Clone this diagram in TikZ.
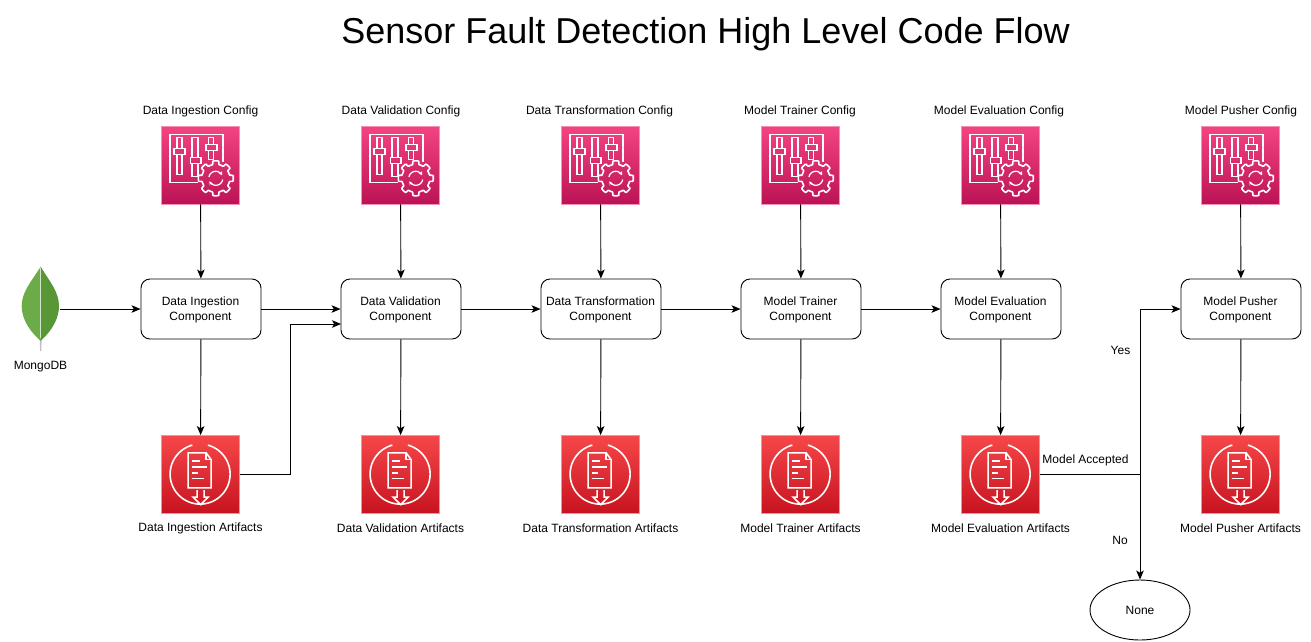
\documentclass[tikz,border=0pt]{standalone}
\usepackage{fontspec}
\setmainfont{Liberation Sans}
\usetikzlibrary{arrows.meta,shapes.geometric}
\definecolor{cfgtop}{HTML}{F34482}
\definecolor{cfgbot}{HTML}{BC1356}
\definecolor{arttop}{HTML}{F54749}
\definecolor{artbot}{HTML}{C7131F}
\definecolor{leafl}{HTML}{6CAC48}
\definecolor{leafr}{HTML}{599636}
\definecolor{stemc}{HTML}{C2BFBF}
\tikzset{
  lab/.style={font=\fontsize{12}{14}\selectfont,text=black,inner sep=0pt,align=center},
  comp/.style={draw=black,line width=0.9pt,rounded corners=9pt,minimum width=120pt,minimum height=60pt,inner sep=0pt,fill=white,font=\fontsize{12}{15}\selectfont,align=center},
  cfgbox/.style={draw=cfgtop!60!white,line width=0.8pt,top color=cfgtop,bottom color=cfgbot,minimum size=78pt,inner sep=0pt},
  artbox/.style={draw=arttop!60!white,line width=0.8pt,top color=arttop,bottom color=artbot,minimum size=78pt,inner sep=0pt},
  conn/.style={draw=black,line width=0.9pt,-{Stealth[length=9pt,width=7.5pt,inset=2.2pt]}},
  plainconn/.style={draw=black,line width=0.9pt},
  ico/.style={draw=white,line width=1.6pt,line join=miter},
  cfgicon/.pic={
    \draw[ico] (37,57) -- (8.7,57) -- (8.7,8.7) -- (62,8.7) -- (62,36);
    % sliders
    \draw[ico] (16,23) -- (16,12) -- (21,12) -- (21,23);
    \draw[ico] (16,29) -- (16,49) -- (21,49) -- (21,29);
    \draw[ico] (13,23) rectangle (24,29);
    \draw[ico] (31,32) -- (31,12) -- (37,12) -- (37,32);
    \draw[ico] (31,38) -- (31,51) -- (37,51) -- (37,38);
    \draw[ico] (29.5,32) rectangle (40,38);
    \draw[ico] (47.5,19) -- (47.5,12) -- (52.5,12) -- (52.5,19);
    \draw[ico] (47.5,25) -- (47.5,34) -- (52.5,34) -- (52.5,25);
    \draw[ico] (45,19) rectangle (56,25);
    % gear
    \draw[ico] plot[domain=0:360,samples=145] ({54.7+(14+3.5*max(0,min(1,2.2*cos(8*\x)+0.5)))*cos(\x)},{52.7+(14+3.5*max(0,min(1,2.2*cos(8*\x)+0.5)))*sin(\x)}) -- cycle;
    % refresh
    \draw[ico,line width=1.2pt,-{Stealth[length=3.8pt,width=4pt]}] plot[domain=190:335,samples=16] ({54.7+7*cos(\x)},{52.7+7*sin(\x)});
    \draw[ico,line width=1.2pt,-{Stealth[length=3.8pt,width=4pt]}] plot[domain=10:155,samples=16] ({54.7+7*cos(\x)},{52.7+7*sin(\x)});
  },
  articon/.pic={
    \draw[ico] plot[domain=105:435,samples=67] ({39+30*cos(\x+0)},{39-30*sin(\x+0)});
    \draw[ico] (45,17.7) -- (27,17.7) -- (27,52.7) -- (50,52.7) -- (50,24.5) -- cycle;
    \draw[ico] (45,17.7) -- (45,24.5) -- (50,24.5);
    \draw[ico] (31,26) -- (39,26);
    \draw[ico] (31,32) -- (46,32);
    \draw[ico] (31,38) -- (37,38);
    \draw[ico] (31,43.5) -- (43,43.5);
    \draw[ico] (36,55) -- (36,62) -- (32,62) -- (39.5,69.5) -- (47,62) -- (43,62) -- (43,55);
  }
}
\newcommand{\column}[5]{%
  \node[lab] (#2cl) at (#1+#5,111) {#3 Config};
  \node[cfgbox] (#2c) at (#1-0.5,165) {};
  \pic at (#2c.north west) {cfgicon};
  \node[comp] (#2m) at (#1,309) {};
  \node[lab,font=\fontsize{12}{15}\selectfont] (#2t) at (#1-0.5,309.5) {#4\\Component};
  \node[artbox] (#2a) at (#1-0.5,474.5) {};
  \pic at (#2a.north west) {articon};
  \node[lab] (#2al) at (#1-0.5,528.5) {#3 Artifacts};
  \draw[conn] (#2c) -- (#2m);
  \draw[conn] (#2m) -- (#2a);
}
\begin{document}
\begin{tikzpicture}[x=1pt,y=-1pt]
\useasboundingbox (0,0) rectangle (1311,641);
\node[inner sep=0pt,font=\fontsize{36}{40}\selectfont] (title) at (705.5,34) {Sensor Fault Detection High Level Code Flow};
% leaf
\fill[stemc] (39.6,335) -- (41.8,335) -- (41.3,351) -- (40.1,351) -- cycle;
\fill[leafl] (40.7,266.7) .. controls (31,282) and (21.7,292) .. (21.7,306) .. controls (21.7,322) and (33,334) .. (40.7,341) -- cycle;
\fill[leafr] (40.7,266.7) .. controls (50,282) and (59,292) .. (59,306) .. controls (59,322) and (48,334) .. (40.7,341) -- cycle;
\draw[line width=0.5pt,draw=white!70!leafl] (40.7,268) -- (40.7,338);
\node[inner sep=0pt,minimum width=38pt,minimum height=75pt] (mongo) at (40.5,309) {};
\node[lab] (mongol) at (40.5,367) {MongoDB};
\column{201}{a}{Data Ingestion}{Data Ingestion}{-0.5}
\column{401}{b}{Data Validation}{Data Validation}{0}
\column{601}{c}{Data Transformation}{Data Transformation}{-1.5}
\column{801}{d}{Model Trainer}{Model Trainer}{-1}
\column{1001}{e}{Model Evaluation}{Model Evaluation}{-2}
\column{1241}{f}{Model Pusher}{Model Pusher}{0}
\draw[conn] (mongo.east) -- (am.west);
\draw[conn] (am) -- (bm);
\draw[conn] (bm) -- (cm);
\draw[conn] (cm) -- (dm);
\draw[conn] (dm) -- (em);
\coordinate (bin) at (341,324);
\draw[conn] (aa.east) -- (290,474.5) -- (290,324) -- (bin);
\node[ellipse,draw=black,line width=0.9pt,minimum width=100pt,minimum height=60pt,inner sep=0pt,font=\fontsize{12}{14}\selectfont] (none) at (1140,610) {None};
\coordinate (split) at (1140,474.5);
\draw[plainconn] (ea.east) -- (split);
\draw[conn] (split) |- (fm.west);
\draw[conn] (split) -- (none.north);
\node[lab] (acc) at (1085.5,460.5) {Model Accepted};
\node[lab] (yes) at (1120.5,350.5) {Yes};
\node[lab] (no) at (1120,540.5) {No};
\end{tikzpicture}
\end{document}
